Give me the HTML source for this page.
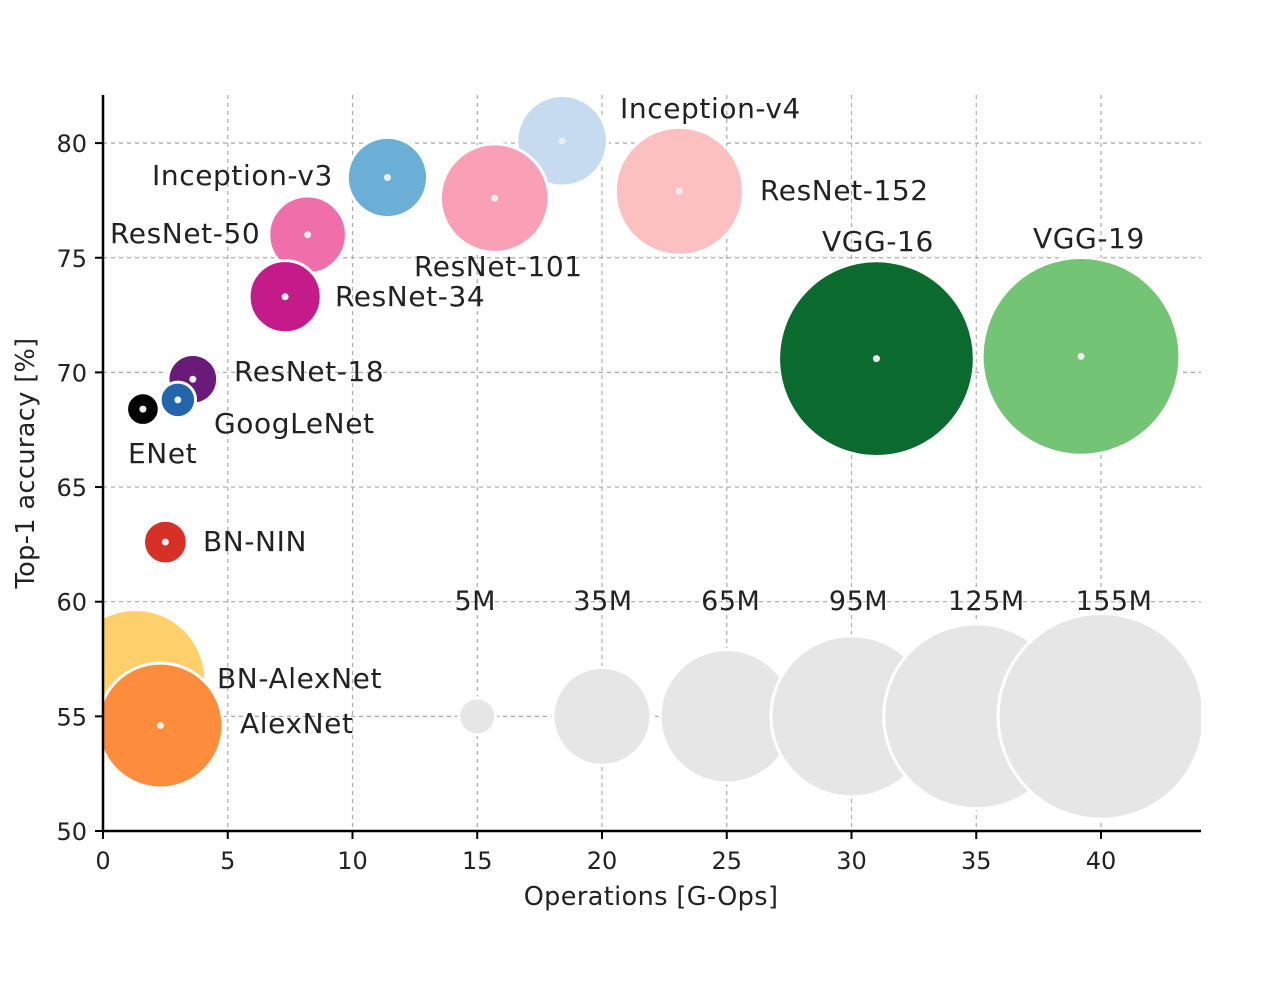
<!DOCTYPE html>
<html><head><meta charset="utf-8"><style>
html,body{margin:0;padding:0;background:#fff;}
svg{display:block;font-family:"DejaVu Sans","Liberation Sans",sans-serif;}
</style></head><body>
<svg id="chart" width="1280" height="984" viewBox="0 0 1280 984">
<defs><clipPath id="plotclip"><rect x="103" y="95" width="1098" height="736"/></clipPath></defs>
<g id="grid"></g>
<g id="bubbles" clip-path="url(#plotclip)"></g>
<g id="labels"></g>
<g id="axes"></g>
<text x="651" y="905" font-size="25.5" letter-spacing="0.4" text-anchor="middle" fill="#222">Operations [G-Ops]</text>
<text transform="translate(34,463) rotate(-90)" font-size="25.5" letter-spacing="0.4" text-anchor="middle" fill="#222">Top-1 accuracy [%]</text>
</svg>
<script>
const names=["BN-AlexNet","AlexNet","VGG-19","VGG-16","Inception-v4","ResNet-152","ResNet-101","Inception-v3","ResNet-50","ResNet-34","ResNet-18","BN-NIN","GoogLeNet","ENet"];
const ops=[1.3,2.3,39.2,31.0,18.4,23.1,15.7,11.4,8.2,7.3,3.6,2.5,3.0,1.6];
const acc=[56.6,54.6,70.7,70.6,80.1,77.9,77.6,78.5,76.0,73.3,69.7,62.6,68.8,68.4];
const params=[72,57,143,140,30,60,43,23.5,22,19,9,7,4.6,3.9];
const colors=["#fdd06b","#fd8d3c","#74c476","#0b6b2e","#c6dbef","#fbc0bf","#f99fb6","#6baed6","#f06eaa","#c51b8a","#6a1b7a","#d73027","#2166ac","#000000"];
const labelX=[217,240,1033,822,620,760,414,152,110,335,234,203,214,128];
const labelY=[678,723,238,241,108,190,266,175,233,296,371,541,423,453];
const legendParams=[5,35,65,95,125,155];
const legendOps=[15,20,25,30,35,40];
const legendAcc=55;
const xTicks=[0,5,10,15,20,25,30,35,40];
const yTicks=[50,55,60,65,70,75,80];

const X=v=>103+v*24.95;
const Y=v=>831-(v-50)*22.93;
const R=p=>8.27*Math.sqrt(p);
const NS="http://www.w3.org/2000/svg";
function mk(tag,attrs,parent){const e=document.createElementNS(NS,tag);for(const k in attrs)e.setAttribute(k,attrs[k]);parent.appendChild(e);return e;}
const grid=document.getElementById('grid'),bub=document.getElementById('bubbles'),lab=document.getElementById('labels'),axes=document.getElementById('axes');

xTicks.forEach(t=>{if(t===0)return;const l=mk('line',{x1:X(t),x2:X(t),y1:95,y2:831,stroke:'#aaa','stroke-width':1.2,'stroke-dasharray':'4,4'},grid);

});
yTicks.forEach(t=>{if(t===50)return;const l=mk('line',{x1:103,x2:1201,y1:Y(t),y2:Y(t),stroke:'#aaa','stroke-width':1.2,'stroke-dasharray':'4,4'},grid);

});

legendParams.forEach((p,i)=>{const c=mk('circle',{cx:X(legendOps[i]),cy:Y(legendAcc),r:R(p),fill:'#e6e6e6',stroke:'#fff','stroke-width':3},bub);


const t=mk('text',{x:X(legendOps[i])-2+(i*3),y:610,'font-size':27,'letter-spacing':0.5,'text-anchor':'middle',fill:'#222'},lab);t.textContent=p+'M';

});

names.forEach((n,i)=>{const c=mk('circle',{cx:X(ops[i]),cy:Y(acc[i]),r:R(params[i]),fill:colors[i],stroke:'#fff','stroke-width':3},bub);


const d=mk('circle',{cx:X(ops[i]),cy:Y(acc[i]),r:3.5,fill:'#eee'},bub);


const t=mk('text',{x:labelX[i],y:labelY[i]+10,'font-size':28,'letter-spacing':0.6,fill:'#222'},lab);t.textContent=n;

});

let s=mk('line',{x1:103,x2:103,y1:95,y2:832,stroke:'#000','stroke-width':2.5},axes);


s=mk('line',{x1:102,x2:1201,y1:831,y2:831,stroke:'#000','stroke-width':2.5},axes);


xTicks.forEach(t=>{const l=mk('line',{x1:X(t),x2:X(t),y1:831,y2:839,stroke:'#000','stroke-width':2},axes);


const tx=mk('text',{x:X(t),y:869,'font-size':24,'text-anchor':'middle',fill:'#222'},axes);tx.textContent=t;

});
yTicks.forEach(t=>{const l=mk('line',{x1:95,x2:103,y1:Y(t),y2:Y(t),stroke:'#000','stroke-width':2},axes);


const tx=mk('text',{x:87,y:Y(t)+9,'font-size':24,'text-anchor':'end',fill:'#222'},axes);tx.textContent=t;

});
</script>
</body></html>
